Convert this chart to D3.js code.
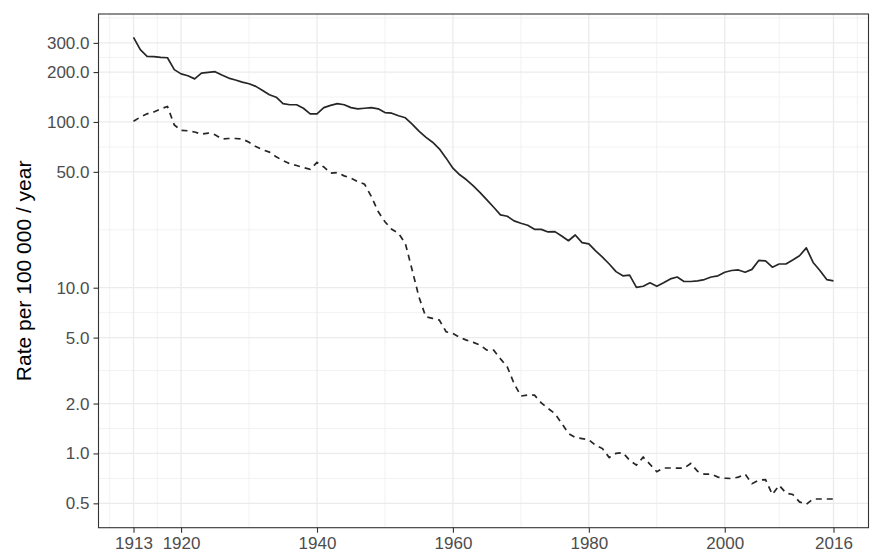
<!DOCTYPE html>
<html lang="en">
<head>
<meta charset="UTF-8">
<script src="https://d3js.org/d3.v7.min.js"></script>
<style>
    body { margin: 0; background: #fff; }
    svg text { font-family: "Liberation Sans", Arial, Helvetica, sans-serif; }
</style>
</head>
<body>
<div id="chart"></div>
<script>
    // data, one value per year 1913..2016
    const years = d3.range(1913, 2017);

    const solidRates = [
        324, 273, 249, 248, 245, 244, 207, 195, 190, 182,
        197, 199, 201, 192, 184, 179, 174, 170, 164, 155,
        146, 141, 129, 127, 127, 121, 112, 112, 122, 126,
        129, 127, 122, 120, 121, 122, 120, 114, 113, 109,
        106, 97, 88, 81, 75.5, 68.9, 60.5, 52.6, 48, 44.8,
        41.1, 37.5, 33.9, 30.6, 27.5, 27, 25.3, 24.5, 23.8, 22.5,
        22.5, 21.7, 21.8, 20.5, 19.2, 20.8, 18.7, 18.4, 16.7, 15.3,
        13.9, 12.5, 11.8, 11.9, 10.05, 10.2, 10.7, 10.2, 10.7, 11.3,
        11.6, 10.9, 10.9, 11.0, 11.2, 11.6, 11.8, 12.4, 12.7, 12.8,
        12.4, 12.9, 14.6, 14.5, 13.3, 13.9, 13.9, 14.7, 15.6, 17.4,
        14.2, 12.7, 11.2, 11.0
    ];

    const dashedRates = [
        101, 107, 112, 115, 120, 124, 96, 89, 88.5, 87,
        84.5, 85.7, 83.8, 79, 79.5, 79.5, 79, 75.5, 71, 68,
        65.8, 61.6, 58.5, 55.9, 54.6, 53.1, 51.8, 57, 53.5, 49.1,
        49.5, 47.3, 45.8, 43.7, 42.1, 35.5, 28.8, 25.0, 22.5, 21.3,
        18.5, 12.8, 8.8, 6.68, 6.53, 6.38, 5.42, 5.30, 5.01, 4.83,
        4.68, 4.51, 4.2, 4.2, 3.72, 3.33, 2.64, 2.22, 2.25, 2.25,
        2.02, 1.87, 1.74, 1.52, 1.32, 1.25, 1.23, 1.21, 1.12, 1.07,
        0.945, 1.0, 1.01, 0.91, 0.85, 0.95, 0.86, 0.775, 0.817, 0.817,
        0.815, 0.815, 0.87, 0.78, 0.75, 0.75, 0.72, 0.71, 0.705, 0.72,
        0.75, 0.657, 0.689, 0.695, 0.566, 0.642, 0.577, 0.565, 0.51, 0.493,
        0.531, 0.531, 0.531, 0.531
    ];

    const xTicks = [1913, 1920, 1940, 1960, 1980, 2000, 2016];
    const yTicks = [0.5, 1, 2, 5, 10, 50, 100, 200, 300];
    const yAxisTitle = "Rate per 100 000 / year";

    const W = 874, H = 554;
    const panel = { left: 98.5, right: 868.5, top: 14, bottom: 527.7 };

    // ggplot style: 5% expansion of the data range
    const xExt = d3.extent(years);
    const xPad = (xExt[1] - xExt[0]) * 0.05;
    const x = d3.scaleLinear()
        .domain([xExt[0] - xPad, xExt[1] + xPad])
        .range([panel.left, panel.right]);

    const allRates = solidRates.concat(dashedRates);
    const lo = Math.log10(d3.min(allRates)), hi = Math.log10(d3.max(allRates));
    const yPad = (hi - lo) * 0.05;
    const y = d3.scaleLog()
        .domain([Math.pow(10, lo - yPad), Math.pow(10, hi + yPad)])
        .range([panel.bottom, panel.top]);

    // minor breaks like ggplot: midpoints between majors (in transformed space),
    // extended one step past each end
    function minorBreaks(b, tf, inv, dom) {
        const t = b.map(tf);
        const bd = t[1] - t[0];
        const ext = [t[0] - bd].concat(t, [t[t.length - 1] + bd]);
        const out = [];
        for (let i = 0; i < ext.length - 1; i++) out.push((ext[i] + ext[i + 1]) / 2);
        return out.map(inv).filter(v => v >= dom[0] && v <= dom[1]);
    }
    const xMinor = minorBreaks(xTicks, d => d, d => d, x.domain());
    const yMinor = minorBreaks(yTicks, Math.log10, d => Math.pow(10, d), y.domain());

    const svg = d3.select("#chart").append("svg")
        .attr("width", W)
        .attr("height", H);

    const grid = svg.append("g");
    grid.selectAll(".xminor").data(xMinor).enter().append("line")
        .attr("x1", d => x(d)).attr("x2", d => x(d))
        .attr("y1", panel.top).attr("y2", panel.bottom)
        .attr("stroke", "#f0f0f0").attr("stroke-width", 0.9);
    grid.selectAll(".yminor").data(yMinor).enter().append("line")
        .attr("x1", panel.left).attr("x2", panel.right)
        .attr("y1", d => y(d)).attr("y2", d => y(d))
        .attr("stroke", "#f0f0f0").attr("stroke-width", 0.9);
    grid.selectAll(".xmajor").data(xTicks).enter().append("line")
        .attr("x1", d => x(d)).attr("x2", d => x(d))
        .attr("y1", panel.top).attr("y2", panel.bottom)
        .attr("stroke", "#ebebeb").attr("stroke-width", 1.3);
    grid.selectAll(".ymajor").data(yTicks).enter().append("line")
        .attr("x1", panel.left).attr("x2", panel.right)
        .attr("y1", d => y(d)).attr("y2", d => y(d))
        .attr("stroke", "#ebebeb").attr("stroke-width", 1.3);

    // lines
    const line = d3.line()
        .x((d, i) => x(years[i]))
        .y(d => y(d));

    svg.append("path")
        .attr("d", line(solidRates))
        .attr("fill", "none")
        .attr("stroke", "#262626")
        .attr("stroke-width", 1.7)
        .attr("stroke-linejoin", "round");

    svg.append("path")
        .attr("d", line(dashedRates))
        .attr("fill", "none")
        .attr("stroke", "#262626")
        .attr("stroke-width", 1.7)
        .attr("stroke-dasharray", "6,5");

    // panel border
    svg.append("rect")
        .attr("x", panel.left).attr("y", panel.top)
        .attr("width", panel.right - panel.left)
        .attr("height", panel.bottom - panel.top)
        .attr("fill", "none")
        .attr("stroke", "#333")
        .attr("stroke-width", 1.1);

    // axes
    const xAxis = svg.append("g")
        .attr("transform", `translate(0,${panel.bottom})`)
        .call(d3.axisBottom(x).tickValues(xTicks).tickFormat(d3.format("d")).tickSize(5).tickPadding(4));
    const yAxis = svg.append("g")
        .attr("transform", `translate(${panel.left},0)`)
        .call(d3.axisLeft(y).tickValues(yTicks).tickFormat(d3.format(".1f")).tickSize(5).tickPadding(4));

    [xAxis, yAxis].forEach(a => {
        a.select(".domain").remove();
        a.selectAll(".tick line").attr("stroke", "#333").attr("stroke-width", 1.1);
        a.selectAll(".tick text")
            .attr("fill", "#4d4d4d")
            .style("font-size", "17px");
    });

    svg.append("text")
        .attr("transform", `translate(31,${(panel.top + panel.bottom) / 2}) rotate(-90)`)
        .attr("text-anchor", "middle")
        .attr("fill", "#000")
        .style("font-size", "21px")
        .text(yAxisTitle);
</script>
</body>
</html>
